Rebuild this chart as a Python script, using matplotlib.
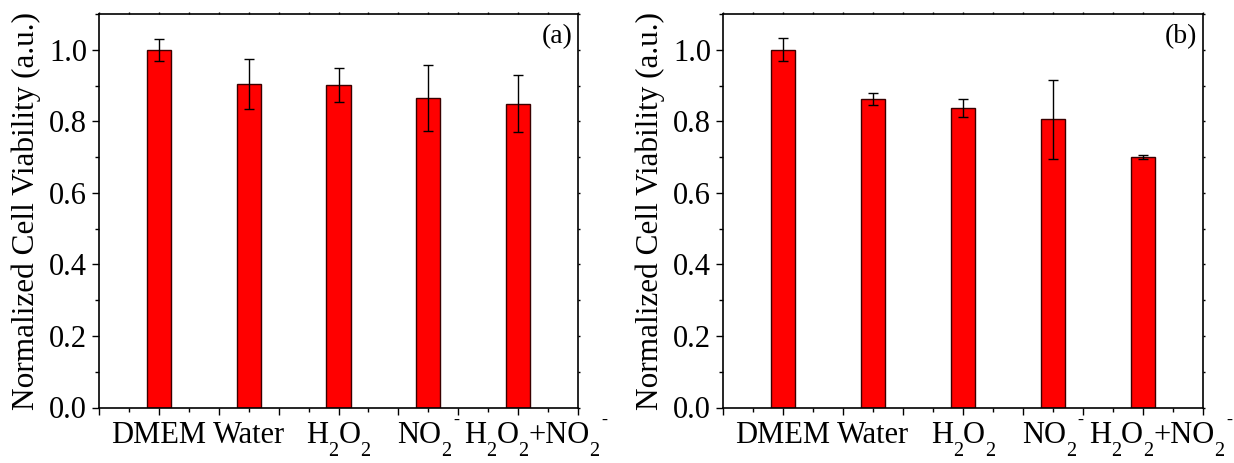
import matplotlib
matplotlib.use("Agg")
import matplotlib.pyplot as plt
from matplotlib.ticker import MultipleLocator, FixedLocator, FormatStrFormatter
from matplotlib.font_manager import FontProperties

plt.rcParams['font.family'] = ['Liberation Serif', 'DejaVu Serif']

# '_x' = subscript x, '^x' = superscript x
categories = ["DMEM", "Water", "H_2O_2", "NO_2^-", "H_2O_2+NO_2^-"]
values_a = [1.000, 0.905, 0.901, 0.866, 0.849]
errors_a = [0.030, 0.070, 0.048, 0.092, 0.080]
values_b = [1.000, 0.862, 0.836, 0.806, 0.700]
errors_b = [0.032, 0.016, 0.025, 0.110, 0.006]
panel_labels = ["(a)", "(b)"]
ylabel = "Normalized Cell Viability (a.u.)"

FS = 22
W, H = 12.34, 4.63
fig = plt.figure(figsize=(W, H), dpi=100)
renderer = fig.canvas.get_renderer()
px = lambda x: x / 1234
py = lambda y: 1 - y / 463
bottom = py(407.5)
top = py(14)
axes_px = [(99, 578), (723, 1203)]


def parse(label):
    pieces = []
    i = 0
    buf = ""
    while i < len(label):
        ch = label[i]
        if ch in "_^" and i + 1 < len(label):
            if buf:
                pieces.append((buf, 'n'))
                buf = ""
            pieces.append((label[i + 1], 'sub' if ch == '_' else 'sup'))
            i += 2
        else:
            buf += ch
            i += 1
    if buf:
        pieces.append((buf, 'n'))
    return pieces


em = FS * 100 / 72.0  # pixels per em
SCALE = {'n': 1.0, 'sub': 0.66, 'sup': 0.6}
SHIFT = {'n': 0.0, 'sub': -0.42 * em, 'sup': 0.58 * em}
BASE = -35.5


def piece_width(s, kind):
    fp = FontProperties(family='Liberation Serif', size=FS * SCALE[kind])
    w, h, d = renderer.get_text_width_height_descent(s, fp, ismath=False)
    return w


def layout(label):
    pieces = parse(label)
    out = []
    x = 0.0
    prev = None
    for s, kind in pieces:
        if kind == 'sup' and prev == 'sub':
            x += 1.5
        out.append((s, kind, x))
        x += piece_width(s, kind)
        prev = kind
    return out, x


for (l, r), vals, errs, lab in zip(axes_px, [values_a, values_b], [errors_a, errors_b], panel_labels):
    ax = fig.add_axes([px(l), bottom, px(r - l), top - bottom])
    x = list(range(1, len(categories) + 1))
    ax.bar(x, vals, width=0.27, color='#ff0000', edgecolor='#3a0000', linewidth=1.0,
           yerr=errs, error_kw=dict(ecolor='black', elinewidth=1.0, capsize=3.5, capthick=1.0),
           zorder=2)
    ax.set_xlim(1/3, 17/3)
    ax.set_ylim(0, 1.1)
    major = [1/3 + k * 2/3 for k in range(9)]
    minor = [2/3 + k * 2/3 for k in range(8)]
    ax.xaxis.set_major_locator(FixedLocator(major))
    ax.xaxis.set_minor_locator(FixedLocator(minor))
    ax.set_xticklabels([])
    ax.yaxis.set_major_locator(MultipleLocator(0.2))
    ax.yaxis.set_minor_locator(MultipleLocator(0.1))
    ax.yaxis.set_major_formatter(FormatStrFormatter('%.1f'))
    ax.tick_params(axis='both', which='major', direction='out', length=5, width=1.0, labelsize=FS)
    ax.tick_params(axis='both', which='minor', direction='out', length=3, width=1.0)
    ax.tick_params(axis='x', which='both', top=True, labeltop=False)
    ax.tick_params(axis='y', which='both', right=True, labelright=False)
    ax.set_ylabel(ylabel, fontsize=22.5, labelpad=6)
    for s in ax.spines.values():
        s.set_linewidth(1.2)
    for t in ax.xaxis.get_major_ticks() + ax.xaxis.get_minor_ticks():
        t.tick2line.set_markersize(1.5)
    for t in ax.yaxis.get_major_ticks() + ax.yaxis.get_minor_ticks():
        t.tick2line.set_markersize(1.5)

    # category labels with large, deep subscripts (Origin style)
    prev_right = -1e9
    for xi, c in zip(x, categories):
        pieces, total = layout(c)
        cx = ax.transData.transform((xi, 0))[0]
        start = cx - total / 2.0
        if start < prev_right + 5:
            start = prev_right + 5
        for s, kind, off in pieces:
            ax.annotate(s, xy=(xi, 0), xycoords=ax.get_xaxis_transform(),
                        xytext=(start - cx + off, BASE + SHIFT[kind]),
                        textcoords='offset pixels', ha='left', va='baseline',
                        fontsize=FS * SCALE[kind], annotation_clip=False)
        prev_right = start + total

    ax.text(0.988, 0.975, lab, transform=ax.transAxes, ha='right', va='top', fontsize=20)

fig.savefig("out.png", dpi=100)
